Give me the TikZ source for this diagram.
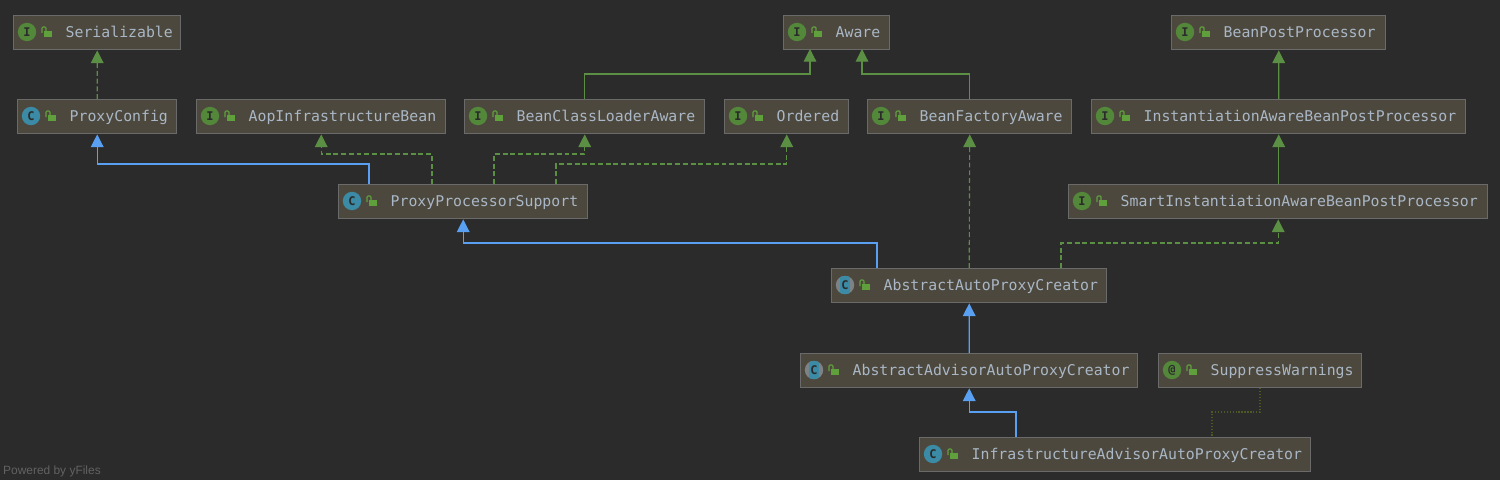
\documentclass[tikz,border=0pt]{standalone}
\usepackage{fontspec}
\setmainfont{Liberation Sans}
\setmonofont{DejaVu Sans Mono}
\usepackage{xcolor}
\usetikzlibrary{arrows.meta, positioning, calc}

\definecolor{bgdark}{HTML}{2B2B2B}
\definecolor{boxfill}{HTML}{4D483D}
\definecolor{boxline}{HTML}{6A6A6A}
\definecolor{labelgray}{HTML}{A9B7C6}
\definecolor{extblue}{HTML}{5AA0F2}
\definecolor{implgreen}{HTML}{5B8F43}
\definecolor{iconteal}{HTML}{3B8BA6}
\definecolor{icongreen}{HTML}{53883A}
\definecolor{lockgreen}{HTML}{5FA03C}
\definecolor{noteolive}{HTML}{4E5A26}
\definecolor{abstgray}{HTML}{7C8285}

\tikzset{
	umlbox/.style={draw=boxline, fill=boxfill, line width=2pt, inner xsep=0pt, inner ysep=0pt, minimum height=1.7cm, text height=16pt, text depth=2.2pt, anchor=north west, align=left, text=labelgray, font=\ttfamily\fontsize{21.1}{24}\selectfont},
	kindicon/.style={circle, minimum size=0.92cm, inner sep=0pt, text=bgdark, font=\ttfamily\bfseries\fontsize{17}{17}\selectfont},
	iface/.style={kindicon, fill=icongreen},
	anno/.style={kindicon, fill=icongreen},
	cls/.style={kindicon, fill=iconteal},
	abst/.style={kindicon, fill=abstgray, path picture={\fill[iconteal] (path picture bounding box.center) +(-5,-9.5) rectangle +(5,9.5);}},
	lockbody/.style={fill=lockgreen, inner sep=0pt, minimum width=0.4cm, minimum height=0.32cm},
	extline/.style={draw=extblue, line width=1.6pt, -{Triangle[length=18pt,width=18pt]}},
	impline/.style={draw=implgreen, line width=1.6pt, dash pattern=on 7pt off 4pt, -{Triangle[length=18pt,width=18pt]}},
	subline/.style={draw=implgreen, line width=1.6pt, -{Triangle[length=18pt,width=18pt]}},
	noteline/.style={draw=noteolive, line width=1.6pt, dash pattern=on 1.8pt off 2.4pt},
}

\begin{document}
\begin{tikzpicture}[x=0.05cm, y=-0.05cm]
	\useasboundingbox (0,0) rectangle (1500,480);
	\fill[bgdark] (0,0) rectangle (1500,480);

	% name/left/right/top/kind/letter/label
	\foreach \name/\l/\r/\t/\kind/\letter/\txt in {
			serializable/13/180/15/iface/I/Serializable,
			aware/783/889/15/iface/I/Aware,
			beanPost/1171/1385/15/iface/I/BeanPostProcessor,
			proxyConfig/17/176/99/cls/C/ProxyConfig,
			aopBean/196/445/99/iface/I/AopInfrastructureBean,
			classLoader/464/704/99/iface/I/BeanClassLoaderAware,
			ordered/724/848/99/iface/I/Ordered,
			beanFactory/867/1071/99/iface/I/BeanFactoryAware,
			instPost/1091/1465/99/iface/I/InstantiationAwareBeanPostProcessor,
			procSupport/338/587/184/cls/C/ProxyProcessorSupport,
			smartPost/1068/1487/184/iface/I/SmartInstantiationAwareBeanPostProcessor,
			autoCreator/831/1106/268/abst/C/AbstractAutoProxyCreator,
			advisorCreator/800/1137/353/abst/C/AbstractAdvisorAutoProxyCreator,
			suppress/1158/1361/353/anno/@/SuppressWarnings,
			infraCreator/919/1310/437/cls/C/InfrastructureAdvisorAutoProxyCreator} {
		\pgfmathsetmacro\boxw{(\r-\l)*0.05}
		\node[umlbox, text width=\boxw cm] (\name) at (\l,\t) {\hspace*{2.6cm}\txt};
		\node[\kind] (\name Icon) at (\l+14,\t+17) {\letter};
		\node[lockbody] (\name Lock) at (\l+34.5,\t+19) {};
		\draw[lockgreen, line width=1.6pt, rounded corners=1.5pt] (\l+29,\t+18) -- (\l+29,\t+12) -- (\l+33,\t+12) -- (\l+33,\t+16);
	}

	% start points on the lower boxes
	\coordinate (supportA) at (369,184);
	\coordinate (supportB) at (432,184);
	\coordinate (supportC) at (494,184);
	\coordinate (supportD) at (556,184);
	\coordinate (autoA) at (877,268);
	\coordinate (autoB) at (1061,268);
	\coordinate (infraA) at (1016,437);
	\coordinate (infraB) at (1212,437);
	\coordinate (suppressA) at (1260,388);
	\coordinate (awareA) at (810,49);
	\coordinate (awareB) at (862,49);

	\draw[impline] (proxyConfig.north) -- (serializable.south);
	\draw[extline] (supportA) -- ++(0,-20) -| (proxyConfig.south);
	\draw[impline] (supportB) -- ++(0,-30) -| (aopBean.south);
	\draw[impline] (supportC) -- ++(0,-30) -| (classLoader.south);
	\draw[impline] (supportD) -- ++(0,-20) -| (ordered.south);
	\draw[subline] (classLoader.north) -- ++(0,-25) -| (awareA);
	\draw[subline] (beanFactory.north) -- ++(0,-25) -| (awareB);
	\draw[subline] (instPost.north) -- (beanPost.south);
	\draw[subline] (smartPost.north -| instPost.north) -- (instPost.south);
	\draw[impline] (autoCreator.north) -- (beanFactory.south);
	\draw[extline] (autoA) -- ++(0,-25) -| (procSupport.south);
	\draw[impline] (autoB) -- ++(0,-25) -| (smartPost.south);
	\draw[extline] (advisorCreator.north) -- (autoCreator.south);
	\draw[extline] (infraA) -- ++(0,-25) -| (advisorCreator.south);
	\draw[noteline] (suppressA) -- ++(0,24) -| (infraB);

	\node[anchor=west, text=gray!65!bgdark, font=\fontsize{17}{17}\selectfont, inner sep=0pt] (poweredBy) at (3,471) {Powered by yFiles};
\end{tikzpicture}
\end{document}
